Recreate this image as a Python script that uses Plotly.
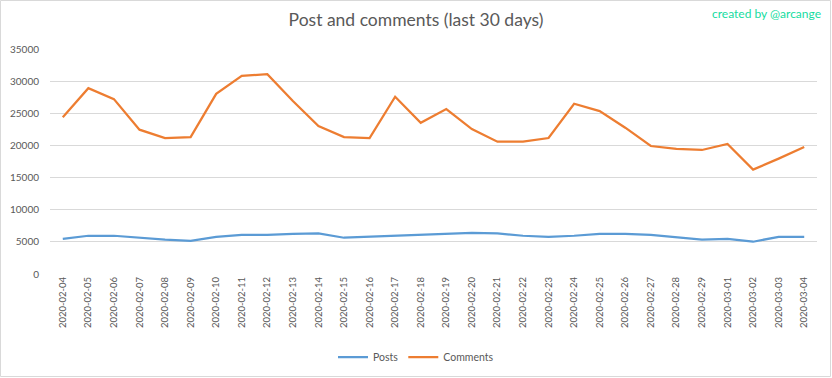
import plotly.graph_objects as go

dates = ["2020-02-04", "2020-02-05", "2020-02-06", "2020-02-07", "2020-02-08", "2020-02-09",
         "2020-02-10", "2020-02-11", "2020-02-12", "2020-02-13", "2020-02-14", "2020-02-15",
         "2020-02-16", "2020-02-17", "2020-02-18", "2020-02-19", "2020-02-20", "2020-02-21",
         "2020-02-22", "2020-02-23", "2020-02-24", "2020-02-25", "2020-02-26", "2020-02-27",
         "2020-02-28", "2020-02-29", "2020-03-01", "2020-03-02", "2020-03-03", "2020-03-04"]

posts = [5480, 5950, 5950, 5590, 5330, 5170, 5790, 6100, 6100, 6260, 6310, 5640,
         5790, 6050, 6100, 6260, 6410, 6310, 5950, 5790, 5950, 6260, 6260, 6100,
         5740, 5330, 5480, 5020, 5790, 5790]

comments = [24400, 28900, 27200, 22450, 21150, 21300, 28030, 30830, 31080, 26900, 23020, 21300,
            21150, 27570, 23530, 25650, 22550, 20590, 20590, 21150, 26480, 25340, 22760, 19910,
            19450, 19290, 20220, 16240, 17950, 19760]

y_ticks = [0, 5000, 10000, 15000, 20000, 25000, 30000, 35000]

W, H = 832, 378
ML, MR, MT, MB = 50, 15, 49, 104

fig = go.Figure()
fig.add_trace(go.Scatter(x=dates, y=posts, mode="lines", name="Posts",
                         line=dict(color="#5B9BD5", width=2.25)))
fig.add_trace(go.Scatter(x=dates, y=comments, mode="lines", name="Comments",
                         line=dict(color="#ED7D31", width=2.25)))

pw = W - ML - MR
ph = H - MT - MB

fig.update_layout(
    width=W, height=H,
    autosize=False,
    margin=dict(l=ML, r=MR, t=MT, b=MB, autoexpand=False),
    paper_bgcolor="white", plot_bgcolor="white",
    font=dict(family="Lato, 'Open Sans', sans-serif", color="#595959"),
    title=dict(text="Post and comments (last 30 days)", x=0.5, xanchor="center",
               y=1 - 20 / H, yanchor="middle", automargin=False,
               font=dict(size=17.5, color="#595959", family="Lato, sans-serif")),
    showlegend=True,
    legend=dict(orientation="h", x=(416 - ML) / pw, xanchor="center",
                y=(0 - (357 - (H - MB))) / ph,
                yanchor="middle", font=dict(size=10.5, color="#595959"),
                itemwidth=30, bgcolor="rgba(0,0,0,0)"),
    xaxis=dict(type="category", range=[-0.5, len(dates) - 0.5], tickangle=-90,
               showgrid=False, showline=False, zeroline=False, ticks="", automargin=False,
               tickfont=dict(size=9.5, color="#595959")),
    yaxis=dict(range=[0, 35000], tickvals=y_ticks, ticktext=[str(v) for v in y_ticks],
               showgrid=True, gridcolor="#D9D9D9", gridwidth=1, automargin=False,
               zeroline=False, showline=False, ticks="", ticklabelstandoff=10,
               tickfont=dict(size=10, color="#595959")),
    annotations=[dict(text="created by @arcange", xref="paper", yref="paper",
                      x=(823 - ML) / pw, xanchor="right", y=1 + (MT - 13) / ph, yanchor="middle",
                      showarrow=False, font=dict(size=12, color="#14DCA0"))],
    shapes=[dict(type="rect", xref="paper", yref="paper",
                 x0=-(ML - 0.5) / pw, x1=1 + (MR - 1.5) / pw,
                 y0=-(MB - 1.5) / ph, y1=1 + (MT - 0.5) / ph,
                 line=dict(color="#D9D9D9", width=1), layer="below")],
)

fig.write_html("out.html", config={"displayModeBar": False},
               post_script="document.body.style.margin='0';document.body.style.padding='0';")
